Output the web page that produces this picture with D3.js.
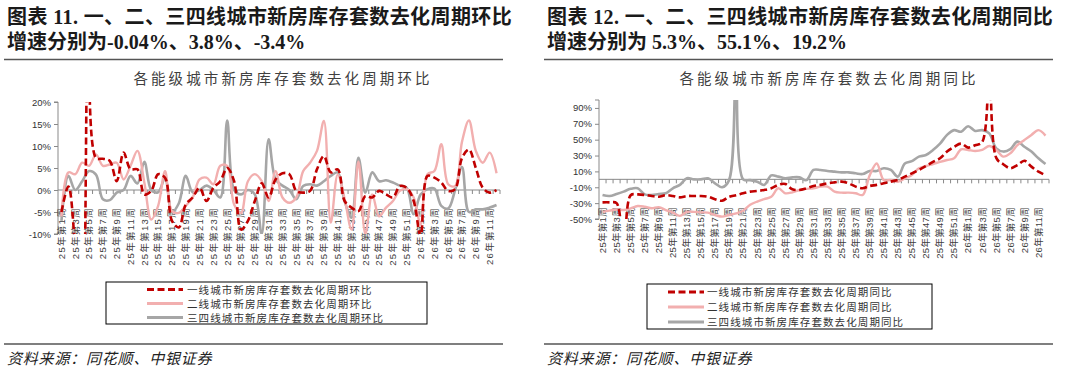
<!DOCTYPE html>
<html>
<head>
<meta charset="utf-8">
<script src="https://cdn.jsdelivr.net/npm/d3@7"></script>
<style>
  body { margin: 0; background: #fff; }
  svg { display: block; }
  text { font-family: "Liberation Sans", "Noto Sans CJK SC", sans-serif; }
</style>
</head>
<body>
<div id="vis"></div>
<script>
// frame
const FRAME_WIDTH = 1080;
const FRAME_HEIGHT = 372;

// categories: 25年第1周 ... 26年第12周
const WEEKS = [
  "25年第1周","25年第2周","25年第3周","25年第4周","25年第5周","25年第6周","25年第7周","25年第8周",
  "25年第9周","25年第10周","25年第11周","25年第12周","25年第13周","25年第14周","25年第15周","25年第16周",
  "25年第17周","25年第18周","25年第19周","25年第20周","25年第21周","25年第22周","25年第23周","25年第24周",
  "25年第25周","25年第26周","25年第27周","25年第28周","25年第29周","25年第30周","25年第31周","25年第32周",
  "25年第33周","25年第34周","25年第35周","25年第36周","25年第37周","25年第38周","25年第39周","25年第40周",
  "25年第41周","25年第42周","25年第43周","25年第44周","25年第45周","25年第46周","25年第47周","25年第48周",
  "25年第49周","25年第50周","25年第51周","25年第52周","26年第1周","26年第2周","26年第3周","26年第4周",
  "26年第5周","26年第6周","26年第7周","26年第8周","26年第9周","26年第10周","26年第11周","26年第12周"
];

// 环比 (%)
const MOM_TIER1 = [-5, 0.8, -14, -45, 55, 7.3, 7.1, 6.6, 2, 8.5,
  4.7, 4.7, -1, -0.2, 3.6, 2.8, -7, -8.5, -3.3, -1.7,
  0.5, -2.5, 0.5, 2, 5, 2, -9, -7, -2.5, 1.5,
  -1.7, 2.4, 3.8, 3.6, -0.2, -0.6, -0.2, 4.7, 7.7, 4,
  4.7, -2.5, -4, -4.8, -1.4, -1.7, -0.2, -1, -1.7, 0.9,
  0.5, -2.5, -10.5, 3.2, 2.8, 1.7, -0.2, 0.2, 7.3, 9.2,
  5, 0.5, -0.6, -0.04];
const MOM_TIER2 = [-6, 4, 3.6, 6.2, 5.5, 8.1, 5.5, 5.8, 6.2, 2.4,
  5.5, 8.9, 1.7, -6.7, -3.6, 4.3, -4.8, -5.2, -3.6, -1.7,
  2.4, 2.8, 1.3, 5.5, 5.5, -3.3, -5.2, 2, 3.6, 2,
  -2.5, 4.3, -1.7, -2.9, -1.7, 4.3, 6.2, 8.9, 15.7, -7.4,
  3.5, -2, -9, 6.5, -10, -1, -6, -4, -2.5, -0.2,
  0.2, -1.7, -7.8, 3.6, 4.3, 10.4, 1.3, 0.9, 11, 15.8,
  8.9, 6.2, 8.5, 3.8];
const MOM_TIER34 = [-7, 3.2, 0, 2, 4.3, 3.5, -2.1, -2.3, -0.6, 0,
  3.2, 1.5, 6.4, 0, -0.5, 2.7, -5, -3, 3.2, -0.5,
  0, 1, 0, -1.7, 15.8, 0, -1, 0, -1, -10,
  11.5, 2.4, 1, 0, -2.1, 0.9, 1.3, 1, 2, 3.2,
  4, -2.5, -6.3, 7.3, -0.6, 4, 2, 2.2, 1.7, 1,
  0.5, -5.5, -1, 0.2, 0.3, -3.6, -4.2, 0, 5.2, -5,
  -4.4, -4.4, -4, -3.4];

// 同比 (%)
const YOY_TIER1 = [-29, -29, -30, -90, -20, -19, -19.7, -21, -22, -20,
  -21, -22.7, -21, -21, -21, -22, -25, -27, -22, -20,
  -17.6, -15.5, -14.7, -13.4, -11.3, -7, -5.9, -12.6, -13.4, -11.3,
  -8.4, -7, -5, -3.8, -2.9, -5, -9.2, -11.3, -8.4, -7,
  -5, -2.9, -0.8, 3.4, 7.6, 11.8, 16.8, 22, 26.5, 35,
  41, 45, 40, 43, 47, 250, 27, 19, 14, 18,
  23.5, 16, 9.7, 5.3];
const YOY_TIER2 = [-41, -39.5, -38, -38.7, -36.5, -33.6, -34.5, -36.5, -35, -38.7,
  -42, -46, -41, -41, -41.6, -42, -45, -47, -45, -43,
  -39.5, -32, -28, -25, -22, -11.3, -17.6, -16.4, -13.4, -12,
  -11.3, -9.2, -9.2, -15.5, -16.8, -16.8, -17.6, -19.7, 5, 20,
  -1, -0.8, -3, 1.3, 5.5, 13.9, 16.8, 19.3, 22, 24.4,
  26.5, 37.8, 37, 35.7, 37, 42, 37, 28.6, 32.8, 43,
  49.6, 56, 62, 55.1];
const YOY_TIER34 = [-19.7, -21, -18.5, -15.5, -12, -11.3, -19, -19.7, -18.5, -17.6,
  -11.3, -7, 1.3, 0, 0, 1.3, -5, -10, -1, 200,
  0, -1, -3, -7, 5, 3.4, 1.3, 2.5, 2.5, -1,
  11.8, 11.8, 10.5, 9.7, 8.8, 8.8, 7.6, 6.7, 10.5, 10.5,
  13.9, 11.8, 3.4, 20, 23, 28.6, 30.7, 37, 45, 56,
  62, 60, 67, 61, 62, 58, 39, 35, 38, 47.5,
  41, 35, 26.5, 19.2];

const MOM_TICKS = [-10, -5, 0, 5, 10, 15, 20];
const YOY_TICKS = [-50, -30, -10, 10, 30, 50, 70, 90];

const SERIES_STYLE = [
  { color: "#C00000", width: 2.6, dash: "7,3.5" },
  { color: "#F2AFAF", width: 2.4, dash: null },
  { color: "#A6A6A6", width: 2.6, dash: null }
];

const FRAME = d3.select("#vis")
  .append("svg")
  .attr("width", FRAME_WIDTH)
  .attr("height", FRAME_HEIGHT);

function drawPanel(p) {
  const g = FRAME.append("g");

  // report heading
  g.append("text")
    .attr("x", p.headX).attr("y", 24)
    .style("font-family", '"Liberation Serif", "Noto Sans CJK SC", serif')
    .style("font-weight", "bold").style("font-size", "20px").style("letter-spacing", "0.4px")
    .attr("fill", "#1a1a1a")
    .text(p.head1);
  g.append("text")
    .attr("x", p.headX).attr("y", 49)
    .style("font-family", '"Liberation Serif", "Noto Sans CJK SC", serif')
    .style("font-weight", "bold").style("font-size", "20px").attr("fill", "#1a1a1a")
    .text(p.head2);
  g.append("line")
    .attr("x1", p.ruleX1).attr("x2", p.ruleX2).attr("y1", 59.5).attr("y2", 59.5)
    .attr("stroke", "#555").attr("stroke-width", 1.5);

  // chart title
  g.append("text")
    .attr("x", p.titleX).attr("y", 84)
    .attr("text-anchor", "middle")
    .style("font-size", "14.5px").style("letter-spacing", "3.1px")
    .attr("fill", "#404040")
    .text(p.title);

  // scales
  const X_SCALE = d3.scaleBand()
    .domain(WEEKS)
    .range([p.left, p.right])
    .padding(0);
  const Y_SCALE = d3.scaleLinear()
    .domain(p.yDomain)
    .range([p.bottom, p.top]);

  const clipId = "clip" + p.id;
  g.append("clipPath").attr("id", clipId)
    .append("rect")
    .attr("x", p.left).attr("y", p.top)
    .attr("width", p.right - p.left).attr("height", p.bottom - p.top);

  // y axis
  const yAxis = g.append("g")
    .attr("transform", `translate(${p.left},0)`)
    .call(d3.axisLeft(Y_SCALE).tickValues(p.ticks).tickSize(4).tickPadding(3)
      .tickFormat(d => d + "%"));
  yAxis.select(".domain").attr("stroke", "#898989")
    .attr("d", `M-4,${Y_SCALE(p.yDomain[1])}H0V${Y_SCALE(p.yDomain[0])}H-4`);
  yAxis.selectAll(".tick line").attr("stroke", "#898989");
  yAxis.selectAll(".tick text")
    .style("font-size", "9.5px").attr("fill", "#333");

  // x axis on the zero line, ticks between categories
  const y0 = Y_SCALE(0);
  g.append("line")
    .attr("x1", p.left).attr("x2", p.right).attr("y1", y0).attr("y2", y0)
    .attr("stroke", "#898989").attr("stroke-width", 1);
  g.selectAll(".xtick" + p.id)
    .data(WEEKS)
    .enter()
    .append("line")
    .attr("x1", d => X_SCALE(d) + X_SCALE.bandwidth())
    .attr("x2", d => X_SCALE(d) + X_SCALE.bandwidth())
    .attr("y1", y0).attr("y2", y0 + 4)
    .attr("stroke", "#898989");

  // category labels, every other week, rotated
  g.selectAll(".xlab" + p.id)
    .data(WEEKS.filter((d, i) => i % 2 === 0))
    .enter()
    .append("text")
    .attr("transform", d => `translate(${X_SCALE(d) + X_SCALE.bandwidth() / 2},${p.labelTop}) rotate(-90)`)
    .attr("text-anchor", "end")
    .attr("dy", "0.35em")
    .style("font-size", "9.5px").style("letter-spacing", p.labelSpacing)
    .attr("fill", "#404040")
    .text(d => d);

  // lines
  const line = d3.line()
    .x((d, i) => X_SCALE(WEEKS[i]) + X_SCALE.bandwidth() / 2)
    .y(d => Y_SCALE(d))
    .curve(d3.curveCatmullRom.alpha(0.5));

  const plot = g.append("g").attr("clip-path", `url(#${clipId})`);
  [2, 1, 0].forEach(k => {
    plot.append("path")
      .datum(p.series[k])
      .attr("d", line)
      .attr("fill", "none")
      .attr("stroke", SERIES_STYLE[k].color)
      .attr("stroke-width", SERIES_STYLE[k].width)
      .attr("stroke-dasharray", SERIES_STYLE[k].dash)
      .attr("stroke-linejoin", "round");
  });

  // legend
  g.append("rect")
    .attr("x", p.legX).attr("y", p.legY)
    .attr("width", p.legW).attr("height", p.legH)
    .attr("fill", "#fff").attr("stroke", "#000").attr("stroke-width", 1);
  p.names.forEach((name, k) => {
    const ly = p.legRows[k];
    g.append("line")
      .attr("x1", p.legLineX[0]).attr("x2", p.legLineX[1])
      .attr("y1", ly).attr("y2", ly)
      .attr("stroke", SERIES_STYLE[k].color)
      .attr("stroke-width", 3)
      .attr("stroke-dasharray", SERIES_STYLE[k].dash);
    g.append("text")
      .attr("x", p.legTextX).attr("y", ly + 4)
      .style("font-size", "10.5px").style("letter-spacing", "1.1px")
      .attr("fill", "#333")
      .text(name);
  });

  // source
  g.append("line")
    .attr("x1", p.ruleX1).attr("x2", p.ruleX2).attr("y1", 344).attr("y2", 344)
    .attr("stroke", "#555").attr("stroke-width", 1.5);
  g.append("text")
    .attr("x", p.headX).attr("y", 364)
    .style("font-size", "15px").style("font-style", "italic").style("letter-spacing", "0.8px")
    .attr("fill", "#222")
    .text("资料来源：同花顺、中银证券");
}

drawPanel({
  id: "L",
  head1: "图表 11. 一、二、三四线城市新房库存套数去化周期环比",
  head2: "增速分别为-0.04%、3.8%、-3.4%",
  headX: 7, ruleX1: 4, ruleX2: 503,
  title: "各能级城市新房库存套数去化周期环比", titleX: 283,
  left: 58, right: 500, top: 102, bottom: 234,
  yDomain: [-10, 20], ticks: MOM_TICKS,
  labelTop: 207, labelSpacing: "1.3px",
  series: [MOM_TIER1, MOM_TIER2, MOM_TIER34],
  names: ["一线城市新房库存套数去化周期环比", "二线城市新房库存套数去化周期环比", "三四线城市新房库存套数去化周期环比"],
  legX: 106, legY: 282, legW: 321, legH: 42,
  legRows: [289.5, 303.5, 317.5], legLineX: [147, 183], legTextX: 187
});

drawPanel({
  id: "R",
  head1: "图表 12. 一、二、三四线城市新房库存套数去化周期同比",
  head2: "增速分别为 5.3%、55.1%、19.2%",
  headX: 547, ruleX1: 544, ruleX2: 1053,
  title: "各能级城市新房库存套数去化周期同比", titleX: 829,
  left: 599, right: 1049, top: 100, bottom: 219,
  yDomain: [-50, 100], ticks: YOY_TICKS,
  labelTop: 207, labelSpacing: "0.3px",
  series: [YOY_TIER1, YOY_TIER2, YOY_TIER34],
  names: ["一线城市新房库存套数去化周期同比", "二线城市新房库存套数去化周期同比", "三四线城市新房库存套数去化周期同比"],
  legX: 647, legY: 284, legW: 285, legH: 45,
  legRows: [292, 307, 322], legLineX: [668, 704], legTextX: 707
});
</script>
</body>
</html>
